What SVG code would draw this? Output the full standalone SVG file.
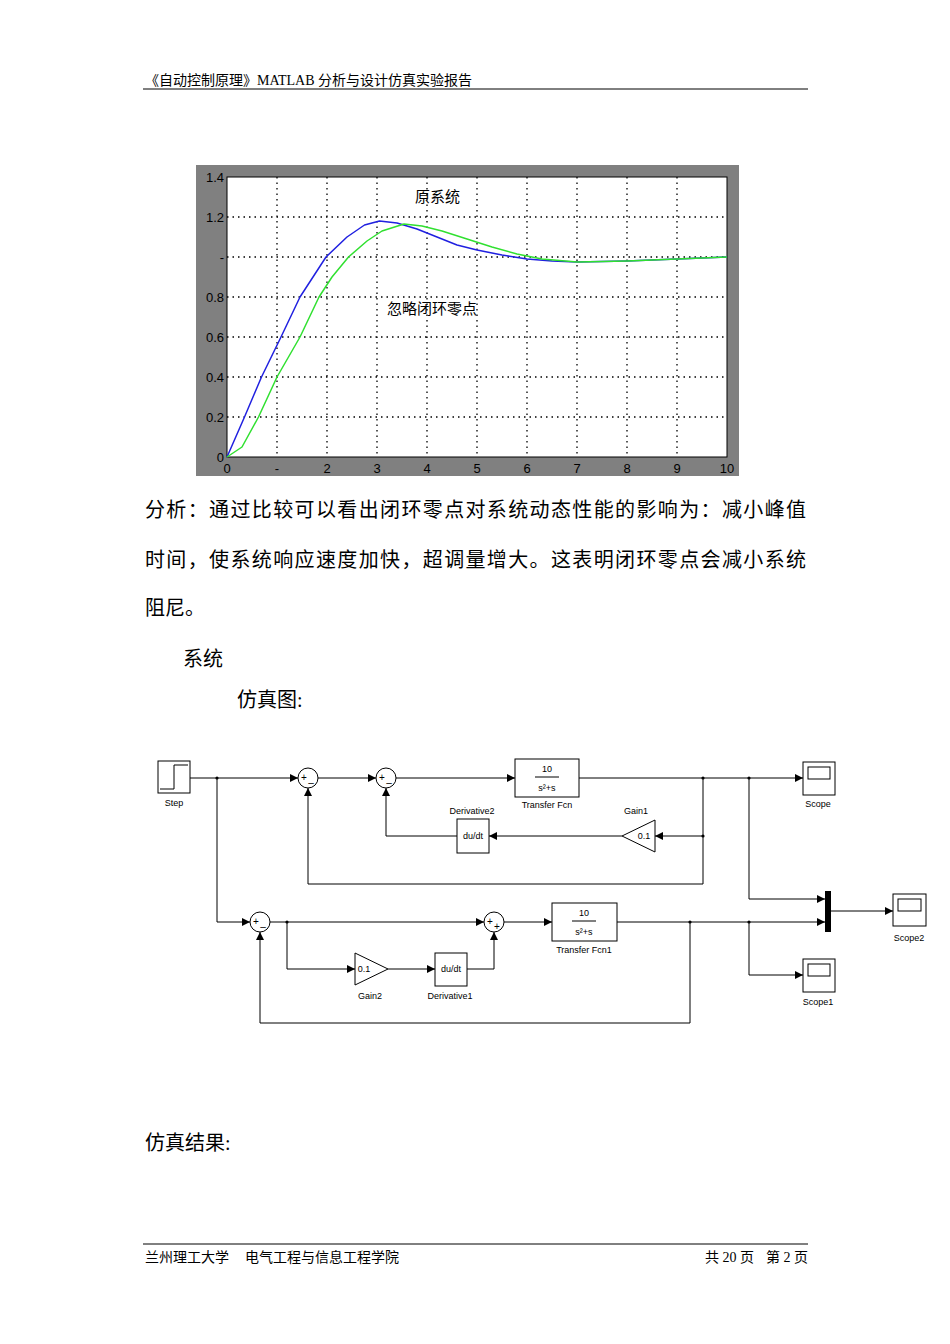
<svg xmlns="http://www.w3.org/2000/svg" width="950" height="1344" viewBox="0 0 950 1344">
<style>
.hd{font-family:"Liberation Serif","Noto Sans CJK SC",serif;font-size:14px;fill:#000}
.p{font-family:"Liberation Serif","Noto Sans CJK SC",serif;font-size:20px;fill:#000}
.ax{font-family:"Liberation Sans",sans-serif;font-size:13px;fill:#000}
.cn{font-family:"Noto Sans CJK SC",sans-serif;font-size:15px;fill:#000}
.lb{font-family:"Liberation Sans",sans-serif;font-size:9px;fill:#000;text-anchor:middle}
.sg{font-family:"Liberation Sans",sans-serif;font-size:10px;fill:#000;text-anchor:middle}
.g{stroke:#000;stroke-width:1.3;stroke-dasharray:1.5 4;fill:none}
.w{stroke:#000;stroke-width:1;fill:none}
.blk{fill:#fff;stroke:#000;stroke-width:1}
.s{fill:#fff;stroke:#000;stroke-width:1}
</style>
<defs><marker id="a" markerWidth="8" markerHeight="8" refX="8" refY="4" orient="auto" markerUnits="userSpaceOnUse"><path d="M0,0L8,4L0,8Z" fill="#000"/></marker></defs>
<text class="hd" x="145" y="85">《自动控制原理》MATLAB 分析与设计仿真实验报告</text>
<line x1="143" y1="89" x2="808" y2="89" stroke="#000" stroke-width="1"/>
<g id="plot">
<rect x="196" y="165" width="543" height="311" fill="#808080"/>
<rect x="227" y="177" width="500" height="280" fill="#fff" stroke="#000"/>
<g class="g"><path d="M277,177V457M327,177V457M377,177V457M427,177V457M477,177V457M527,177V457M577,177V457M627,177V457M677,177V457M227,217H727M227,257H727M227,297H727M227,337H727M227,377H727M227,417H727"/></g>
<g class="ax" text-anchor="end"><text x="224" y="182">1.4</text><text x="224" y="222">1.2</text><text x="224" y="262">-</text><text x="224" y="302">0.8</text><text x="224" y="342">0.6</text><text x="224" y="382">0.4</text><text x="224" y="422">0.2</text><text x="224" y="462">0</text></g>
<g class="ax" text-anchor="middle"><text x="227" y="473">0</text><text x="277" y="473">-</text><text x="327" y="473">2</text><text x="377" y="473">3</text><text x="427" y="473">4</text><text x="477" y="473">5</text><text x="527" y="473">6</text><text x="577" y="473">7</text><text x="627" y="473">8</text><text x="677" y="473">9</text><text x="727" y="473">10</text></g>
<polyline fill="none" stroke="#2020e0" stroke-width="1.5" stroke-linejoin="round" points="227,457 244.5,417 261.5,377 281,337 300,297 326,257 347,237 364.5,225 379.5,221 397,223 417,229 437,237 457,245 477,250 502,255 527,259 552,261 577,262 627,261 677,259 727,257"/>
<polyline fill="none" stroke="#30e030" stroke-width="1.5" stroke-linejoin="round" points="227,457 242,447 258.5,417 277,377 300,337 319,297 332,277 348.5,257 367,241 382,231 404,224 422,226 442,231 467,239 492,247 517,254 542,259 577,262 627,261 677,259 727,257"/>
<text class="cn" x="415" y="202">原系统</text>
<text class="cn" x="387" y="314">忽略闭环零点</text>
</g>
<text class="p" x="145" y="517" textLength="661">分析：通过比较可以看出闭环零点对系统动态性能的影响为：减小峰值</text>
<text class="p" x="145" y="567" textLength="661">时间，使系统响应速度加快，超调量增大。这表明闭环零点会减小系统</text>
<text class="p" x="145" y="615">阻尼。</text>
<text class="p" x="183" y="666">系统</text>
<text class="p" x="237" y="707">仿真图:</text>
<g id="connectors" class="w">
<path d="M190,778H298" marker-end="url(#a)"/>
<path d="M318,778H376" marker-end="url(#a)"/>
<path d="M396,778H515" marker-end="url(#a)"/>
<path d="M579,778H803" marker-end="url(#a)"/>
<path d="M703,778V884H308V788" marker-end="url(#a)"/>
<path d="M703,836H655" marker-end="url(#a)"/>
<path d="M622,836H489" marker-end="url(#a)"/>
<path d="M457,836H386V788" marker-end="url(#a)"/>
<path d="M749,778V899H825" marker-end="url(#a)"/>
<path d="M217,778V922H250" marker-end="url(#a)"/>
<path d="M270,922H484" marker-end="url(#a)"/>
<path d="M287,922V969H355" marker-end="url(#a)"/>
<path d="M388,969H435" marker-end="url(#a)"/>
<path d="M467,969H494V932" marker-end="url(#a)"/>
<path d="M504,922H552" marker-end="url(#a)"/>
<path d="M617,922H825" marker-end="url(#a)"/>
<path d="M749,922V975H803" marker-end="url(#a)"/>
<path d="M690,922V1023H260V932" marker-end="url(#a)"/>
<path d="M831,911H893" marker-end="url(#a)"/>
</g>
<g id="dots" fill="#000"><circle cx="217" cy="778" r="1.6"/><circle cx="703" cy="778" r="1.6"/><circle cx="749" cy="778" r="1.6"/><circle cx="703" cy="836" r="1.6"/><circle cx="287" cy="922" r="1.6"/><circle cx="690" cy="922" r="1.6"/><circle cx="749" cy="922" r="1.6"/></g>
<g id="step"><rect class="blk" x="158" y="761" width="32" height="32"/><path d="M160,789H174V765H188" class="w"/><text class="lb" x="174" y="806">Step</text></g>
<g id="sum1"><circle class="s" cx="308" cy="778" r="10"/><text class="sg" x="304" y="781">+</text><text class="sg" x="311" y="786">–</text></g>
<g id="sum2"><circle class="s" cx="386" cy="778" r="10"/><text class="sg" x="382" y="781">+</text><text class="sg" x="389" y="786">–</text></g>
<g id="tf"><rect class="blk" x="515" y="759" width="64" height="38"/><text class="lb" x="547" y="772">10</text><line x1="535" y1="777" x2="559" y2="777" stroke="#000"/><text class="lb" x="547" y="791">s²+s</text><text class="lb" x="547" y="808">Transfer Fcn</text></g>
<g id="scope"><rect class="blk" x="803" y="762" width="32" height="33"/><rect class="blk" x="808" y="767" width="22" height="12"/><text class="lb" x="818" y="807">Scope</text></g>
<g id="gain1"><path class="blk" d="M655,820V852L622,836Z"/><text class="lb" x="644" y="839">0.1</text><text class="lb" x="636" y="814">Gain1</text></g>
<g id="der2"><rect class="blk" x="457" y="819" width="32" height="34"/><text class="lb" x="473" y="839">du/dt</text><text class="lb" x="472" y="814">Derivative2</text></g>
<g id="mux"><rect x="825" y="891" width="6" height="41" fill="#000"/></g>
<g id="scope2"><rect class="blk" x="893" y="894" width="33" height="32"/><rect class="blk" x="898" y="899" width="23" height="12"/><text class="lb" x="909" y="941">Scope2</text></g>
<g id="sum3"><circle class="s" cx="260" cy="922" r="10"/><text class="sg" x="256" y="925">+</text><text class="sg" x="263" y="930">–</text></g>
<g id="sum4"><circle class="s" cx="494" cy="922" r="10"/><text class="sg" x="490" y="925">+</text><text class="sg" x="497" y="930">+</text></g>
<g id="gain2"><path class="blk" d="M355,953V985L388,969Z"/><text class="lb" x="364" y="972">0.1</text><text class="lb" x="370" y="999">Gain2</text></g>
<g id="der1"><rect class="blk" x="435" y="953" width="32" height="33"/><text class="lb" x="451" y="972">du/dt</text><text class="lb" x="450" y="999">Derivative1</text></g>
<g id="tf1"><rect class="blk" x="552" y="903" width="65" height="38"/><text class="lb" x="584" y="916">10</text><line x1="572" y1="921" x2="596" y2="921" stroke="#000"/><text class="lb" x="584" y="935">s²+s</text><text class="lb" x="584" y="953">Transfer Fcn1</text></g>
<g id="scope1"><rect class="blk" x="803" y="959" width="32" height="33"/><rect class="blk" x="808" y="964" width="22" height="12"/><text class="lb" x="818" y="1005">Scope1</text></g>
<text class="p" x="145" y="1150">仿真结果:</text>
<line x1="143" y1="1244" x2="808" y2="1244" stroke="#000" stroke-width="1"/>
<text class="hd" x="145" y="1262">兰州理工大学</text>
<text class="hd" x="245" y="1262">电气工程与信息工程学院</text>
<text class="hd" x="705" y="1262">共 20 页</text>
<text class="hd" x="766" y="1262">第 2 页</text>
</svg>
